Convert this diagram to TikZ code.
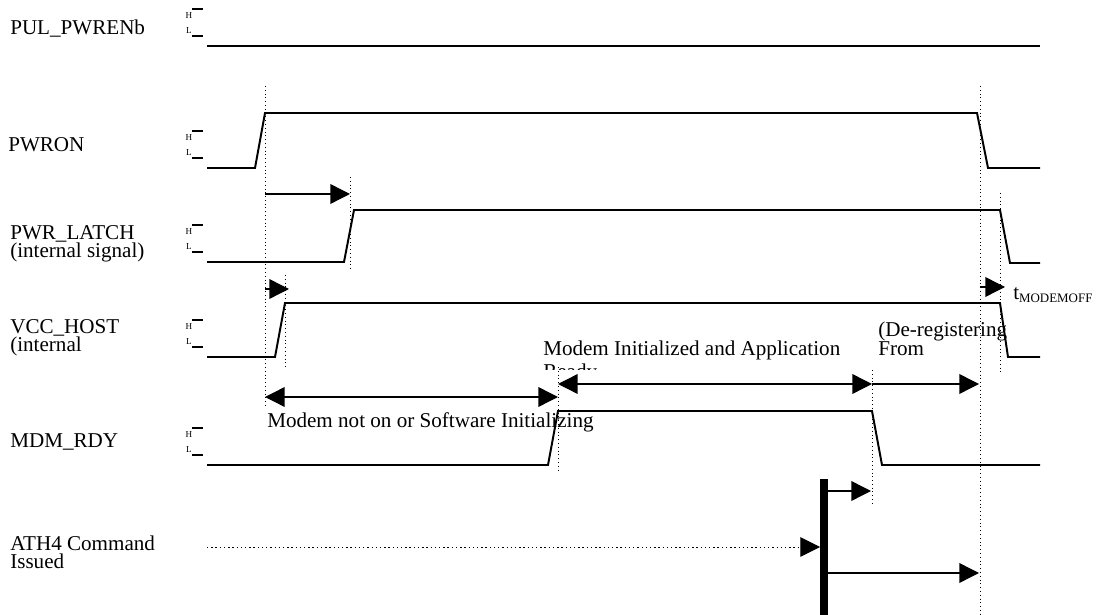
\documentclass[tikz,border=0pt]{standalone}
\usepackage{fontspec}
\setmainfont{Liberation Serif}
\usetikzlibrary{arrows.meta}

\begin{document}
\begin{tikzpicture}[x=0.025cm, y=-0.025cm,
    wave/.style={line width=1.4pt},
    guide/.style={dotted, line width=0.7pt},
    tip/.style={line width=1pt, -{Triangle[length=14pt,width=14pt]}},
    twotips/.style={line width=1pt, {Triangle[length=14pt,width=14pt]}-{Triangle[length=14pt,width=14pt]}},
    sigtext/.style={anchor=base west, align=left, inner sep=0pt, font=\fontsize{15}{13.5}\selectfont},
    hl/.style={inner sep=0pt, font=\fontsize{6.5}{7}\selectfont}]
        \useasboundingbox (0,0) rectangle (1099,615);

        % Nomes dos sinais
        \node[sigtext] (pul) at (10,35) {PUL\_PWRENb};
        \node[sigtext] (pwron) at (8,152) {PWRON};
        \node[sigtext] (latch) at (10,258) {PWR\_LATCH\\(internal signal)};
        \node[sigtext] (vcc) at (10,352) {VCC\_HOST\\(internal};
        \node[sigtext] (mdm) at (10,448) {MDM\_RDY};
        \node[sigtext] (ath) at (10,569) {ATH4 Command\\Issued};

        % Marcas H / L
        \foreach \y in {46,168,262,357,465} {
            \draw[line width=1pt] (192,\y-37) -- (203,\y-37);
            \draw[line width=1pt] (192,\y-10) -- (203,\y-10);
            \node[hl] (H\y) at (189,\y-30) {H};
            \node[hl] (L\y) at (189,\y-15) {L};
        }

        % Sinais
        \draw[wave] (207,46) -- (1040,46);
        \draw[wave] (207,168) -- (255,168) -- (265,113) -- (977,113) -- (988,168) -- (1040,168);
        \draw[wave] (207,262) -- (344,262) -- (354,210) -- (1000,210) -- (1010,263) -- (1040,263);
        \draw[wave] (207,357) -- (275,357) -- (285,303) -- (1000,303) -- (1008,357) -- (1040,357);
        \draw[wave] (207,465) -- (548,465) -- (558,411) -- (872,411) -- (882,465) -- (1040,465);

        % Linhas de tempo
        \draw[guide] (265,86) -- (265,405);
        \draw[guide] (350,177) -- (350,270);
        \draw[guide] (285,275) -- (285,368);
        \draw[guide] (980,86) -- (980,615);
        \draw[guide] (1000,193) -- (1000,372);
        \draw[guide] (558,367) -- (558,472);
        \draw[guide] (872,370) -- (872,505);

        % Setas de tempo
        \draw[tip] (265,194) -- (350,194);
        \draw[tip] (265,289) -- (289,289);
        \draw[tip] (980,287) -- (1005,287);
        \draw[twotips] (265,397) -- (558,397);
        \draw[twotips] (558,384) -- (872,384);
        \draw[tip] (872,384) -- (979,384);

        % Comando ATH4
        \fill (820,479) rectangle (828,615);
        \draw[tip, guide] (207,547) -- (820,547);
        \draw[tip] (828,491) -- (871,491);
        \draw[tip] (828,573) -- (979,573);

        % Textos
        \node[sigtext] (toff) at (1013,300) {t\raisebox{-1.5pt}{\fontsize{9.2}{10}\selectfont MODEMOFF}};
        \node[sigtext] (notready) at (267,428) {Modem not on or Software Initializing};
        \begin{scope}
            \clip (540,330) rectangle (860,370);
            \node[sigtext, font=\fontsize{15}{17}\selectfont] (ready) at (543,379) {Modem Initialized and Application\\Ready};
        \end{scope}
        \node[sigtext, font=\fontsize{15}{14.2}\selectfont] (dereg) at (878,356) {(De-registering\\From};

    \end{tikzpicture}
\end{document}
